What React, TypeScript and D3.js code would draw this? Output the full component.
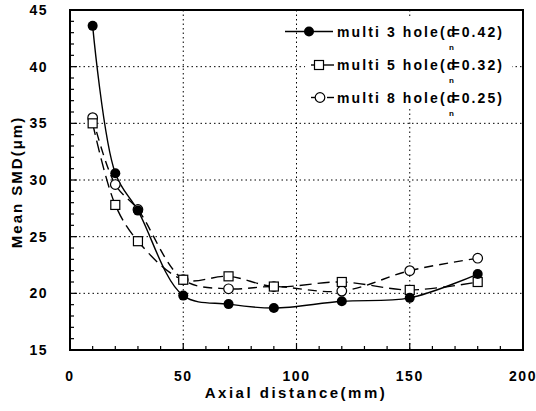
import { useEffect, useRef } from 'react';
import * as d3 from 'd3';

const distances = [10, 20, 30, 50, 70, 90, 120, 150, 180];
const hole3 = [43.6, 30.6, 27.3, 19.8, 19.05, 18.7, 19.3, 19.6, 21.7];
const hole5 = [35.0, 27.8, 24.6, 21.2, 21.5, 20.6, 21.0, 20.3, 21.0];
const hole8 = [35.5, 29.6, 27.4, 21.2, 20.4, 20.6, 20.2, 22.0, 23.1];
const xTicks = [0, 50, 100, 150, 200];
const yTicks = [15, 20, 25, 30, 35, 40, 45];
const legendNames = ['multi 3 hole(d', 'multi 5 hole(d', 'multi 8 hole(d'];
const legendValues = ['=0.42)', '=0.32)', '=0.25)'];

export default function App() {
  const svgRef = useRef<SVGSVGElement>(null);

  useEffect(() => {
    if (!svgRef.current) return;
    const svg = d3.select(svgRef.current);
    svg.selectAll('*').remove();

    const x = d3.scaleLinear().domain([0, 200]).range([70, 523]);
    const y = d3.scaleLinear().domain([15, 45]).range([350, 10]);
    const font = '"Liberation Sans", Arial, sans-serif';

    // grid
    const grid = svg.append('g').attr('stroke', '#000').attr('stroke-width', 1).attr('stroke-dasharray', '1.5,3');
    xTicks.slice(1, -1).forEach(t => {
      grid.append('line').attr('x1', x(t)).attr('x2', x(t)).attr('y1', y(45)).attr('y2', y(15));
    });
    yTicks.slice(1, -1).forEach(t => {
      grid.append('line').attr('x1', x(0)).attr('x2', x(200)).attr('y1', y(t)).attr('y2', y(t));
    });

    // minor ticks
    const ticks = svg.append('g').attr('stroke', '#000').attr('stroke-width', 1.2);
    d3.range(0, 201, 10).forEach(t => {
      const len = t % 50 === 0 ? 7 : 4;
      ticks.append('line').attr('x1', x(t)).attr('x2', x(t)).attr('y1', y(15)).attr('y2', y(15) - len);
    });
    d3.range(15, 46, 1).forEach(t => {
      const len = t % 5 === 0 ? 7 : 4;
      ticks.append('line').attr('x1', x(0)).attr('x2', x(0) + len).attr('y1', y(t)).attr('y2', y(t));
    });

    // frame
    svg.append('rect')
      .attr('x', x(0)).attr('y', y(45))
      .attr('width', x(200) - x(0)).attr('height', y(15) - y(45))
      .attr('fill', 'none').attr('stroke', '#000').attr('stroke-width', 2);

    // tick labels
    svg.append('g').selectAll('text').data(xTicks).enter().append('text')
      .attr('x', d => x(d)).attr('y', 381)
      .attr('text-anchor', 'middle')
      .style('font-family', font).style('font-weight', 'bold').style('font-size', '14px')
      .style('letter-spacing', '1.5px')
      .text(d => d);
    svg.append('g').selectAll('text').data(yTicks).enter().append('text')
      .attr('x', 48).attr('y', d => y(d) + 5)
      .attr('text-anchor', 'end')
      .style('font-family', font).style('font-weight', 'bold').style('font-size', '14px')
      .style('letter-spacing', '1.5px')
      .text(d => d);

    // axis titles
    svg.append('text')
      .attr('x', 296).attr('y', 398).attr('text-anchor', 'middle')
      .style('font-family', font).style('font-weight', 'bold').style('font-size', '15px')
      .style('letter-spacing', '2.5px')
      .text('Axial distance(mm)');
    svg.append('text')
      .attr('transform', 'translate(22,182) rotate(-90)').attr('text-anchor', 'middle')
      .style('font-family', font).style('font-weight', 'bold').style('font-size', '15px')
      .style('letter-spacing', '2px')
      .text('Mean SMD(\u03bcm)');

    const line = d3.line<number>()
      .x((d, i) => x(distances[i]))
      .y(d => y(d))
      .curve(d3.curveCatmullRom.alpha(0.5));

    const series = [
      { values: hole8, dash: '9,6', marker: 'circle' },
      { values: hole5, dash: '12,6', marker: 'square' },
      { values: hole3, dash: null, marker: 'dot' },
    ];

    series.forEach(s => {
      svg.append('path')
        .attr('d', line(s.values))
        .attr('fill', 'none').attr('stroke', '#000').attr('stroke-width', 1.4)
        .attr('stroke-dasharray', s.dash);
    });

    const drawMarker = (g: d3.Selection<SVGGElement, unknown, null, undefined>, kind: string, cx: number, cy: number) => {
      if (kind === 'square') {
        g.append('rect').attr('x', cx - 4.5).attr('y', cy - 4.5).attr('width', 9).attr('height', 9)
          .attr('fill', '#fff').attr('stroke', '#000').attr('stroke-width', 1.2);
      } else if (kind === 'circle') {
        g.append('circle').attr('cx', cx).attr('cy', cy).attr('r', 4.8)
          .attr('fill', '#fff').attr('stroke', '#000').attr('stroke-width', 1.2);
      } else {
        g.append('circle').attr('cx', cx).attr('cy', cy).attr('r', 5).attr('fill', '#000');
      }
    };

    series.forEach(s => {
      const g = svg.append('g');
      s.values.forEach((v, i) => drawMarker(g, s.marker, x(distances[i]), y(v)));
    });

    // legend
    const legend = svg.append('g');
    legend.append('rect').attr('x', 305).attr('y', 16).attr('width', 207).attr('height', 92).attr('fill', '#fff');
    const rows = [
      { kind: 'dot', segs: [[285, 333]], mx: 309 },
      { kind: 'square', segs: [[311, 315], [324, 334]], mx: 319 },
      { kind: 'circle', segs: [[311, 315], [327, 334]], mx: 320 },
    ];
    const rowY = [31.5, 65, 97.5];
    rows.forEach((r, i) => {
      const ry = rowY[i];
      r.segs.forEach(sg => {
        legend.append('line').attr('x1', sg[0]).attr('x2', sg[1]).attr('y1', ry).attr('y2', ry)
          .attr('stroke', '#000').attr('stroke-width', 1.4);
      });
      const mg = legend.append('g');
      drawMarker(mg, r.kind, r.mx, ry);
      const t = legend.append('text')
        .attr('x', 337).attr('y', ry + 5)
        .style('font-family', font).style('font-weight', 'bold').style('font-size', '14px')
        .style('letter-spacing', '2.1px');
      const first = t.append('tspan').text(legendNames[i]);
      t.append('tspan').attr('dx', -6).text(legendValues[i]);
      const w = (first.node() as SVGTSpanElement).getComputedTextLength();
      legend.append('text')
        .attr('x', 337 + w - 6).attr('y', ry + 18)
        .attr('text-anchor', 'middle')
        .style('font-family', font).style('font-weight', 'bold').style('font-size', '8px')
        .text('n');
    });
  }, []);

  return (
    <svg ref={svgRef} width={536} height={411}
      style={{ position: 'absolute', left: 0, top: 0, background: '#fff' }} />
  );
}
